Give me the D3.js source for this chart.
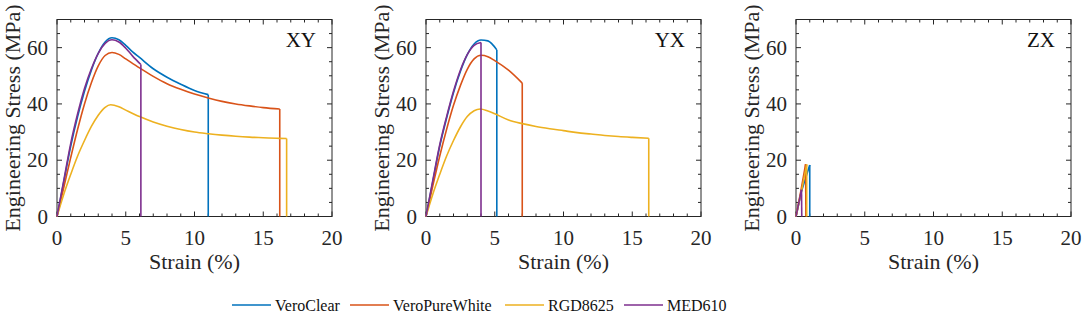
<!DOCTYPE html>
<html><head><meta charset="utf-8">
<script src="https://cdn.jsdelivr.net/npm/d3@7"></script>
</head>
<body style="margin:0">
<svg id="chart" width="1084" height="318"></svg>
<script>
const seriesNames = ["VeroClear", "VeroPureWhite", "RGD8625", "MED610"];
const seriesColors = ["#0072BD", "#D95319", "#EDB120", "#7E2F8E"];
const panelNames = ["XY", "YX", "ZX"];
const strainTicks = [0, 5, 10, 15, 20];
const stressTicks = [0, 20, 40, 60];

// [strain %, stress MPa]; last point = fracture drop
const xyVeroClear = [[0,0],[0.5,12.5],[1,25],[1.5,35.5],[2,44.5],[2.5,52],[3,58],[3.5,62],[4,63.5],[4.5,62.8],[5,60.8],[5.5,58.5],[6,56.5],[7,52.5],[8,49.5],[9,47],[10,44.8],[11,43.3],[11,0]];
const xyVeroPureWhite = [[0,0],[0.5,10.5],[1,21],[1.5,31],[2,40],[2.5,47.5],[3,53.5],[3.5,57.2],[4,58.3],[4.5,57.6],[5,56],[6,52.8],[7,49.8],[8,47.2],[9,45.2],[10,43.5],[11,42.1],[12,40.9],[13,40],[14,39.3],[15,38.7],[16.2,38.2],[16.2,0]];
const xyRGD8625 = [[0,0],[0.5,8],[1,15],[1.5,21.5],[2,27],[2.5,32],[3,36],[3.5,38.8],[3.9,39.7],[4.5,39],[5,37.8],[6,35.5],[7,33.6],[8,32.1],[9,30.9],[10,30],[11,29.4],[12,28.9],[13,28.5],[14,28.2],[15,28],[16,27.8],[16.7,27.7],[16.7,0]];
const xyMED610 = [[0,0],[0.5,13],[1,26],[1.5,36.5],[2,45.5],[2.5,52.5],[3,58],[3.5,61.5],[4,62.8],[4.5,62],[5,59.8],[5.5,57],[6.1,54],[6.1,0]];

const yxVeroClear = [[0,0],[0.5,12.5],[1,25],[1.5,35],[2,44],[2.5,51.5],[3,57.5],[3.5,61.3],[4,62.7],[4.5,62.4],[5.15,59.2],[5.15,0]];
const yxVeroPureWhite = [[0,0],[0.5,11],[1,21.5],[1.5,31],[2,39.5],[2.5,46.5],[3,52.3],[3.5,56],[4,57.3],[4.5,56.8],[5,55.4],[6,52],[7,47.4],[7,0]];
const yxRGD8625 = [[0,0],[0.5,8],[1,15],[1.5,21.5],[2,27],[2.5,31.8],[3,35.5],[3.5,37.6],[3.95,38.2],[4.5,37.5],[5,36.5],[6,34.3],[7,33],[8,32],[9,31.2],[10,30.5],[11,29.8],[12,29.3],[13,28.8],[14,28.4],[15,28.1],[16.2,27.8],[16.2,0]];
const yxMED610 = [[0,0],[0.5,13],[1,25.5],[1.5,35.5],[2,44.5],[2.5,52],[3,57.5],[3.5,60.8],[4.0,61.8],[4.0,0]];

const zxVeroClear = [[0,0],[0.4,9],[1.0,18.3],[1.0,0]];
const zxVeroPureWhite = [[0,0],[0.35,9],[0.7,18.6],[0.72,0]];
const zxRGD8625 = [[0,0],[0.4,9],[0.78,18.5],[0.78,0]];
const zxMED610 = [[0,0],[0.4,9.5],[0.42,0]];

const panelData = [
  [xyVeroClear, xyVeroPureWhite, xyRGD8625, xyMED610],
  [yxVeroClear, yxVeroPureWhite, yxRGD8625, yxMED610],
  [zxVeroClear, zxVeroPureWhite, zxRGD8625, zxMED610]
];
const panelCurves = [d3.curveMonotoneX, d3.curveMonotoneX, d3.curveLinear];

const svg = d3.select("#chart");
const panelLeft = [57, 426, 796];
const pw = 275, plotTop = 19.5, plotBottom = 216.5;
const axisColor = "#262626";

function addText(parent, str, size) {
  return parent.append("text").attr("font-size", size)
    .style("font-family", "'Liberation Serif'").text(str);
}

panelNames.forEach((name, pi) => {
  const x = d3.scaleLinear().domain([0, 20]).range([panelLeft[pi], panelLeft[pi] + pw]);
  const y = d3.scaleLinear().domain([0, 70]).range([plotBottom, plotTop]);

  svg.append("rect").attr("x", x(0)).attr("y", y(70)).attr("width", x(20) - x(0)).attr("height", y(0) - y(70))
    .attr("fill", "none").attr("stroke", axisColor).attr("stroke-width", 1);

  const xMinor = d3.range(0, 21, 1);
  const yMinor = d3.range(0, 71, 5);
  xMinor.forEach(d => {
    const len = d % 5 === 0 ? 5 : 3;
    svg.append("line").attr("x1", x(d)).attr("x2", x(d)).attr("y1", y(0)).attr("y2", y(0) - len).attr("stroke", axisColor);
    svg.append("line").attr("x1", x(d)).attr("x2", x(d)).attr("y1", y(70)).attr("y2", y(70) + len).attr("stroke", axisColor);
  });
  yMinor.forEach(d => {
    const len = d % 20 === 0 ? 5 : 3;
    svg.append("line").attr("y1", y(d)).attr("y2", y(d)).attr("x1", x(0)).attr("x2", x(0) + len).attr("stroke", axisColor);
    svg.append("line").attr("y1", y(d)).attr("y2", y(d)).attr("x1", x(20)).attr("x2", x(20) - len).attr("stroke", axisColor);
  });

  strainTicks.forEach(d => {
    addText(svg, String(d), 21).attr("x", x(d)).attr("y", 245).attr("text-anchor", "middle").attr("fill", axisColor);
  });
  stressTicks.forEach(d => {
    addText(svg, String(d), 21).attr("x", x(0) - 9).attr("y", y(d) + 7).attr("text-anchor", "end").attr("fill", axisColor);
  });

  addText(svg, "Strain (%)", 22).attr("x", (x(0) + x(20)) / 2).attr("y", 269)
    .attr("text-anchor", "middle").attr("fill", axisColor);
  addText(svg, "Engineering Stress (MPa)", 22)
    .attr("transform", `translate(${x(0) - 37},${(plotTop + plotBottom) / 2}) rotate(-90)`)
    .attr("text-anchor", "middle").attr("fill", axisColor);

  addText(svg, name, 21).attr("x", x(20) - 16).attr("y", y(70) + 27).attr("text-anchor", "end").attr("fill", "#111");

  const curveLine = d3.line().x(d => x(d[0])).y(d => y(d[1])).curve(panelCurves[pi]);
  const dropLine = d3.line().x(d => x(d[0])).y(d => y(d[1]));
  panelData[pi].forEach((pts, si) => {
    const body = pts.slice(0, pts.length - 1);
    svg.append("path").attr("d", curveLine(body)).attr("fill", "none")
      .attr("stroke", seriesColors[si]).attr("stroke-width", 1.6).attr("stroke-linejoin", "round");
    svg.append("path").attr("d", dropLine(pts.slice(pts.length - 2))).attr("fill", "none")
      .attr("stroke", seriesColors[si]).attr("stroke-width", 1.6);
  });
});

const legendLineX = [232, 350, 505, 624];
seriesNames.forEach((n, i) => {
  svg.append("line").attr("x1", legendLineX[i]).attr("x2", legendLineX[i] + 39).attr("y1", 305).attr("y2", 305)
    .attr("stroke", seriesColors[i]).attr("stroke-width", 1.6);
  addText(svg, n, 16).attr("x", legendLineX[i] + 43).attr("y", 311).attr("fill", "#111");
});
</script>
</body></html>
